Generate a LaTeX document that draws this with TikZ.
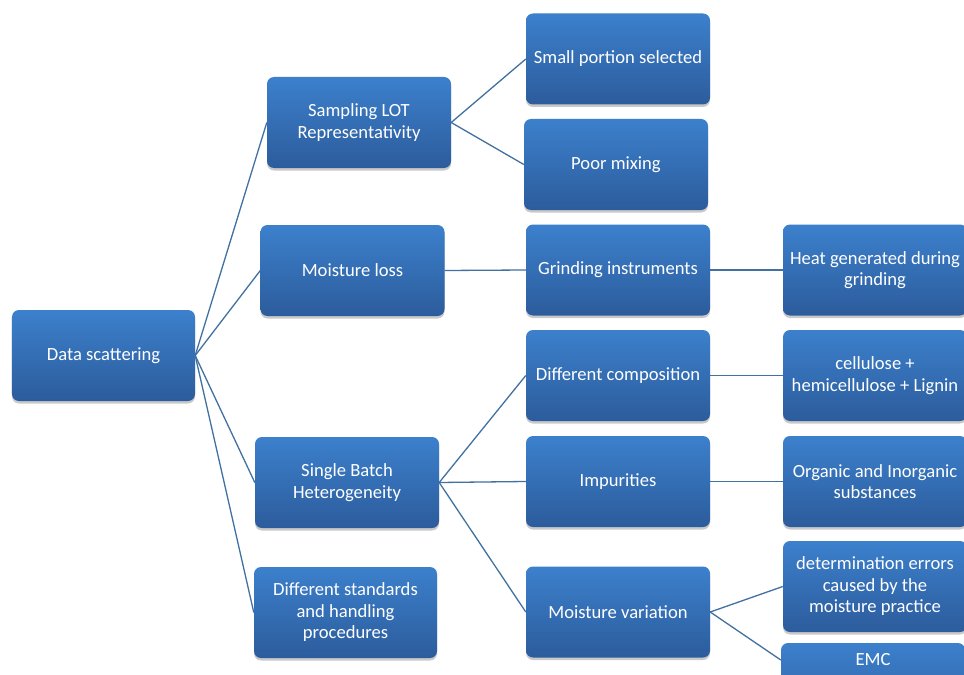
\documentclass[tikz,border=0pt]{standalone}
\usepackage{fontspec}
\setmainfont{Carlito}
\usetikzlibrary{shadows}
\definecolor{boxtop}{RGB}{60,128,204}
\definecolor{boxbot}{RGB}{44,92,156}
\definecolor{linec}{RGB}{65,113,160}
\tikzset{
  boxfont/.style={font=\fontsize{18.6bp}{21.5bp}\selectfont},
  box/.style={rounded corners=7bp, top color=boxtop, bottom color=boxbot, draw=none,
    minimum width=184bp, minimum height=91bp, align=center, text=white,
    boxfont, inner sep=1bp,
    drop shadow={shadow xshift=0bp, shadow yshift=-2.5bp, opacity=0.35, fill=black!60}},
  conn/.style={draw=linec, line width=1.3bp}
}
\begin{document}
\begin{tikzpicture}[x=1bp,y=-1bp]
\clip (0,0) rectangle (964,675);
\fill[white] (0,0) rectangle (964,675);
% level 0
\node[box, minimum width=183bp] (ds) at (103.5,355.5) {Data scattering};
% level 1
\node[box] (slr) at (359,122.5) {Sampling LOT\\Representativity};
\node[box] (ml) at (352.5,270.5) {Moisture loss};
\node[box] (sbh) at (347,482.5) {Single Batch\\Heterogeneity};
\node[box, minimum width=183bp] (dsh) at (345.5,612.5) {Different standards\\and handling\\procedures};
% level 2
\node[box] (sps) at (618,59) {Small portion selected};
\node[box] (pm) at (616,164.5) {Poor mixing};
\node[box] (gi) at (618,270) {Grinding instruments};
\node[box] (dc) at (618,375.5) {Different composition};
\node[box] (imp) at (618,481.5) {Impurities};
\node[box] (mv) at (618,612) {Moisture variation};
% level 3
\node[box] (heat) at (875,270) {Heat generated during\\grinding};
\node[box] (cel) at (875,375.5) {cellulose +\\hemicellulose + Lignin};
\node[box] (org) at (875,481.5) {Organic and Inorganic\\substances};
\node[box] (det) at (875,586.5) {determination errors\\caused by the\\moisture practice};
\node[box] (emc) at (873,688.5) {};
\node[text=white, boxfont] (emct) at (873,660) {EMC};
% connectors
\begin{scope}[conn]
\draw (ds.east) -- (slr.west);
\draw (ds.east) -- (ml.west);
\draw (ds.east) -- (sbh.west);
\draw (ds.east) -- (dsh.west);
\draw (slr.east) -- (sps.west);
\draw (slr.east) -- (pm.west);
\draw (ml.east) -- (gi.west);
\draw (gi.east) -- (heat.west);
\draw (sbh.east) -- (dc.west);
\draw (sbh.east) -- (imp.west);
\draw (sbh.east) -- (mv.west);
\draw (dc.east) -- (cel.west);
\draw (imp.east) -- (org.west);
\draw (mv.east) -- (det.west);
\coordinate (emcin) at (emc.west |- emct);
\draw (mv.east) -- (emcin);
\end{scope}
\end{tikzpicture}
\end{document}
